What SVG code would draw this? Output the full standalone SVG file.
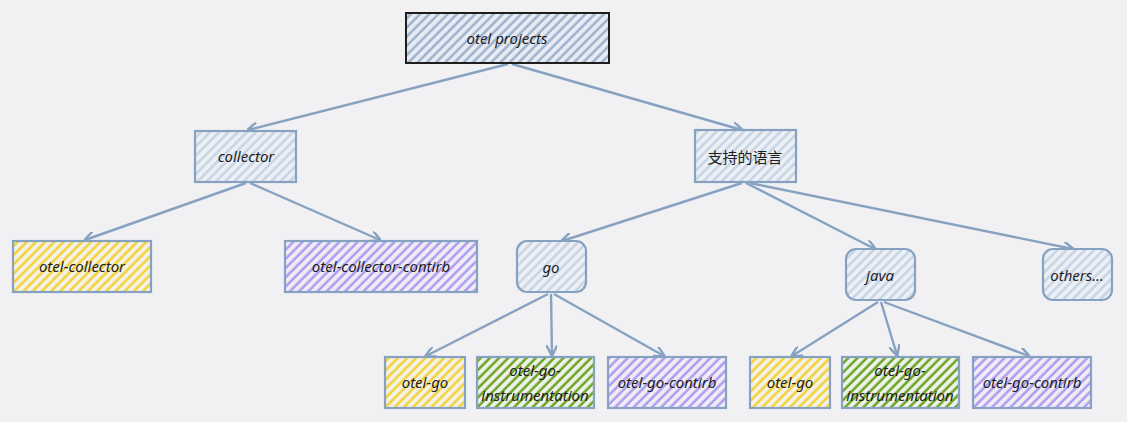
<svg xmlns="http://www.w3.org/2000/svg" width="1127" height="422" viewBox="0 0 1127 422">
<defs>
<pattern id="hBlue" width="6.5" height="6.5" patternUnits="userSpaceOnUse" patternTransform="rotate(45)"><rect width="6.5" height="6.5" fill="#e8ecf2"/><line x1="1.5" y1="0" x2="1.5" y2="6.5" stroke="#9cb3d0" stroke-width="2.5"/></pattern>
<pattern id="hLight" width="6.5" height="6.5" patternUnits="userSpaceOnUse" patternTransform="rotate(45)"><rect width="6.5" height="6.5" fill="#eceff4"/><line x1="1.5" y1="0" x2="1.5" y2="6.5" stroke="#c6d4e5" stroke-width="2.5"/></pattern>
<pattern id="hYellow" width="6.5" height="6.5" patternUnits="userSpaceOnUse" patternTransform="rotate(45)"><rect width="6.5" height="6.5" fill="#f3f1e8"/><line x1="1.5" y1="0" x2="1.5" y2="6.5" stroke="#f5d235" stroke-width="2.5"/></pattern>
<pattern id="hPurple" width="6.5" height="6.5" patternUnits="userSpaceOnUse" patternTransform="rotate(45)"><rect width="6.5" height="6.5" fill="#eeedf6"/><line x1="1.5" y1="0" x2="1.5" y2="6.5" stroke="#b09bf0" stroke-width="2.5"/></pattern>
<pattern id="hGreen" width="6.5" height="6.5" patternUnits="userSpaceOnUse" patternTransform="rotate(45)"><rect width="6.5" height="6.5" fill="#eef1ea"/><line x1="1.5" y1="0" x2="1.5" y2="6.5" stroke="#6ca524" stroke-width="2.5"/></pattern>
<marker id="arr" viewBox="0 0 10 10" refX="9" refY="5" markerWidth="11" markerHeight="11" markerUnits="userSpaceOnUse" orient="auto"><path d="M0,0 L10,5 L0,10" fill="none" stroke="#87a2c0" stroke-width="2.2"/></marker>
<style>
.n{stroke:#87a2c0;stroke-width:2.2}
.t{font-family:"Noto Sans","DejaVu Sans",sans-serif;font-style:italic;font-size:15px;fill:#1e1e1e;text-anchor:middle;dominant-baseline:central}
.c{fill:none;stroke:#87a2c0;stroke-width:2.4;marker-end:url(#arr)}
</style>
</defs>
<rect width="1127" height="422" fill="#f1f1f4"/>
<g id="connectors">
<path class="c" d="M508,64 L248,130"/>
<path class="c" d="M512,64 L742,130"/>
<path class="c" d="M246,183 L85,240"/>
<path class="c" d="M250,183 L380,240"/>
<path class="c" d="M742,183 L562,241"/>
<path class="c" d="M746,183 L875,249"/>
<path class="c" d="M750,183 L1073,249"/>
<path class="c" d="M548,294 L426,356"/>
<path class="c" d="M551,294 L552,355"/>
<path class="c" d="M554,294 L664,356"/>
<path class="c" d="M878,302 L792,356"/>
<path class="c" d="M881,302 L897,355"/>
<path class="c" d="M884,302 L1029,356"/>
</g>
<g id="otel-projects"><rect x="406" y="13" width="203" height="50" fill="url(#hBlue)" stroke="#1e1e1e" stroke-width="2"/><text class="t" x="507" y="38">otel projects</text></g>
<g id="collector"><rect class="n" x="195" y="131" width="101" height="51" fill="url(#hLight)"/><text class="t" x="246" y="156">collector</text></g>
<g id="languages"><rect class="n" x="695" y="130" width="101" height="52" fill="url(#hLight)"/><text class="t" x="745" y="156" style="font-family:'Noto Sans CJK SC',sans-serif;font-style:normal">支持的语言</text></g>
<g id="otel-collector"><rect class="n" x="13" y="241" width="138" height="51" fill="url(#hYellow)"/><text class="t" x="82" y="266">otel-collector</text></g>
<g id="otel-collector-contirb"><rect class="n" x="285" y="241" width="192" height="51" fill="url(#hPurple)"/><text class="t" x="381" y="266">otel-collector-contirb</text></g>
<g id="go"><rect class="n" x="517" y="241" width="69" height="51" rx="10" fill="url(#hLight)"/><text class="t" x="551" y="267">go</text></g>
<g id="java"><rect class="n" x="846" y="249" width="69" height="51" rx="10" fill="url(#hLight)"/><text class="t" x="880" y="275">java</text></g>
<g id="others"><rect class="n" x="1043" y="249" width="69" height="51" rx="10" fill="url(#hLight)"/><text class="t" x="1077" y="275">others...</text></g>
<g id="go-otel-go"><rect class="n" x="385" y="357" width="80" height="51" fill="url(#hYellow)"/><text class="t" x="425" y="382">otel-go</text></g>
<g id="go-otel-go-instrumentation"><rect class="n" x="477" y="357" width="117" height="51" fill="url(#hGreen)"/><text class="t" x="535" y="370">otel-go-</text><text class="t" x="535" y="395">instrumentation</text></g>
<g id="go-otel-go-contirb"><rect class="n" x="608" y="357" width="118" height="51" fill="url(#hPurple)"/><text class="t" x="667" y="382">otel-go-contirb</text></g>
<g id="java-otel-go"><rect class="n" x="750" y="357" width="80" height="51" fill="url(#hYellow)"/><text class="t" x="790" y="382">otel-go</text></g>
<g id="java-otel-go-instrumentation"><rect class="n" x="842" y="357" width="117" height="51" fill="url(#hGreen)"/><text class="t" x="900" y="370">otel-go-</text><text class="t" x="900" y="395">instrumentation</text></g>
<g id="java-otel-go-contirb"><rect class="n" x="973" y="357" width="118" height="51" fill="url(#hPurple)"/><text class="t" x="1032" y="382">otel-go-contirb</text></g>
</svg>
